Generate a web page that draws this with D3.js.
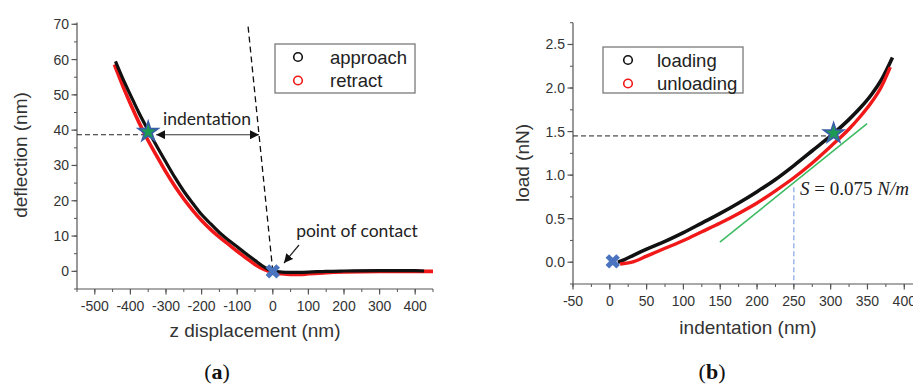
<!DOCTYPE html>
<html><head><meta charset="utf-8">
<script src="https://cdn.jsdelivr.net/npm/d3@7"></script>
<style>
html,body{margin:0;padding:0;background:#fff;}
svg{display:block;}
</style></head>
<body>
<script>
// ---------- DATA ----------
// Panel (a): force curve, z displacement (nm) vs deflection (nm)
const approachZ = [-442,-420,-400,-375,-350,-325,-300,-275,-250,-225,-200,-175,-150,-125,-100,-75,-50,-25,0,25,50,100,150,200,300,400,425];
const approachD = [59.5,54.3,50.0,44.7,39.9,35.3,30.9,26.6,22.7,19.3,16.1,13.5,11.0,8.9,7.0,5.0,3.1,1.3,0.1,-0.2,-0.3,-0.2,0.0,0.1,0.2,0.2,0.1];
const retractZ  = [-445,-420,-400,-375,-350,-325,-300,-275,-250,-225,-200,-175,-150,-125,-100,-75,-50,-25,0,25,50,75,100,150,200,300,400,450];
const retractD  = [58.6,52.2,47.5,42.0,37.0,32.5,28.1,24.1,20.5,17.3,14.4,11.9,9.7,7.7,5.7,3.8,1.95,0.55,-0.3,-0.7,-0.9,-0.9,-0.7,-0.35,-0.15,0.0,0.0,0.0];
const contactZ = 0, contactD = 0;
const starA = {z: -350, d: 39.5};
const levelA = 38.7;            // horizontal dashed level
const hardZ = [0, -69.5];        // zero-indentation reference line (deflection = -z)
const hardD = [0, 69.5];
const legendA = ["approach", "retract"];
const xTicksA = [-500,-400,-300,-200,-100,0,100,200,300,400];
const yTicksA = [0,10,20,30,40,50,60,70];

// Panel (b): load vs indentation
const loadingI = [11,20,32,50,75,100,125,150,175,200,225,250,275,300,325,340,355,370,384];
const loadingL = [0.0,0.03,0.08,0.15,0.24,0.34,0.45,0.56,0.68,0.81,0.95,1.11,1.28,1.45,1.64,1.77,1.92,2.11,2.35];
const unloadI  = [14,30,50,75,100,125,150,175,200,225,250,275,300,325,340,355,368,381];
const unloadL  = [-0.02,0.0,0.07,0.16,0.25,0.35,0.45,0.56,0.68,0.82,0.97,1.14,1.33,1.53,1.67,1.83,2.0,2.24];
const tangentI = [149.5, 349.5];
const tangentL = [0.23, 1.59];
const starB = {i: 304, l: 1.48};
const levelB = 1.45;
const stiffI = 250, stiffTop = 0.86;
const contactI = 4, contactL = 0.01;
const legendB = ["loading", "unloading"];
const xTicksB = [-50,0,50,100,150,200,250,300,350,400];
const yTicksB = [0.0,0.5,1.0,1.5,2.0,2.5];

// ---------- DRAW ----------
const W = 913, H = 385;
const svg = d3.select("body").append("svg").attr("width", W).attr("height", H);
const defs = svg.append("defs");
defs.append("marker").attr("id","ah").attr("viewBox","0 0 10 10").attr("refX",10).attr("refY",5)
  .attr("markerWidth",9).attr("markerHeight",9).attr("markerUnits","userSpaceOnUse").attr("orient","auto-start-reverse")
  .append("path").attr("d","M0,0L10,5L0,10Z").attr("fill","#111");

const AX = "#555", TXT = "#333";
const tickFont = "'Liberation Sans', Arial, sans-serif";

function axes(g, x, y, xt, yt, xminor, yminor, yfmt) {
  const xa = g.append("g").attr("transform", `translate(0,${y.range()[0]})`);
  xa.append("line").attr("x1", x.range()[0]).attr("x2", x.range()[1]).attr("stroke", AX).attr("stroke-width", 1.2);
  xa.selectAll(".mn").data(xminor).join("line").attr("x1", d=>x(d)).attr("x2", d=>x(d)).attr("y1",0).attr("y2",3).attr("stroke",AX);
  xa.selectAll(".mj").data(xt).join("line").attr("x1", d=>x(d)).attr("x2", d=>x(d)).attr("y1",0).attr("y2",5.5).attr("stroke",AX).attr("stroke-width",1.2);
  xa.selectAll("text").data(xt).join("text").attr("x", d=>x(d)).attr("y", 22).attr("text-anchor","middle")
    .attr("font-family", tickFont).attr("font-size", 14).attr("fill", TXT).text(d=>d);
  const ya = g.append("g").attr("transform", `translate(${x.range()[0]},0)`);
  ya.append("line").attr("y1", y.range()[0]).attr("y2", y.range()[1]).attr("stroke", AX).attr("stroke-width", 1.2);
  ya.selectAll(".mn").data(yminor).join("line").attr("y1", d=>y(d)).attr("y2", d=>y(d)).attr("x1",0).attr("x2",-3).attr("stroke",AX);
  ya.selectAll(".mj").data(yt).join("line").attr("y1", d=>y(d)).attr("y2", d=>y(d)).attr("x1",0).attr("x2",-5.5).attr("stroke",AX).attr("stroke-width",1.2);
  ya.selectAll("text").data(yt).join("text").attr("x", -8).attr("y", d=>y(d)+5).attr("text-anchor","end")
    .attr("font-family", tickFont).attr("font-size", 14).attr("fill", TXT).text(yfmt);
}

function star(g, cx, cy) {
  g.append("path").attr("d", d3.symbol(d3.symbolStar, 125)()).attr("transform", `translate(${cx},${cy})`)
    .attr("fill", "#1f9a52").attr("stroke", "#3a5ea8").attr("stroke-width", 1.6);
}
function cross(g, cx, cy) {
  g.append("path").attr("d", d3.symbol(d3.symbolCross, 130)()).attr("transform", `translate(${cx},${cy}) rotate(45)`)
    .attr("fill", "#4a74c0");
}
function legend(g, x0, y0, w, h, names, cx, tx) {
  g.append("rect").attr("x", x0).attr("y", y0).attr("width", w).attr("height", h)
    .attr("fill", "#fff").attr("stroke", "#7a7a7a").attr("stroke-width", 1.3);
  const cols = ["#111", "#f01818"];
  names.forEach((n, i) => {
    const yy = y0 + 13 + i * 23.5;
    g.append("circle").attr("cx", cx).attr("cy", yy).attr("r", 4.3).attr("fill", "none").attr("stroke", cols[i]).attr("stroke-width", 1.6);
    g.append("text").attr("x", tx).attr("y", yy + 6.5).attr("font-family", tickFont).attr("font-size", 18.5).attr("fill", "#222").text(n);
  });
}

// ===== Panel (a) =====
const ga = svg.append("g");
const xA = d3.scaleLinear().domain([-550, 450]).range([77, 433]);
const yA = d3.scaleLinear().domain([-5, 70.5]).range([289, 22.5]);
axes(ga, xA, yA, xTicksA, yTicksA, d3.range(-550, 451, 50), d3.range(-5, 71, 5), d=>d);

// reference dashed lines
ga.append("path").attr("d", d3.line()(hardZ.map((z,i)=>[xA(z), yA(hardD[i])])))
  .attr("stroke", "#111").attr("stroke-width", 1.3).attr("stroke-dasharray", "6,4").attr("fill","none");
ga.append("line").attr("x1", xA.range()[0]).attr("x2", xA(starA.z)-3).attr("y1", yA(levelA)).attr("y2", yA(levelA))
  .attr("stroke", "#222").attr("stroke-width", 1).attr("stroke-dasharray", "5,3");

const lineA = d3.line().x(d=>xA(d[0])).y(d=>yA(d[1])).curve(d3.curveMonotoneX);
ga.append("path").attr("d", lineA(retractZ.map((z,i)=>[z, retractD[i]]))).attr("fill","none").attr("stroke","#f01818").attr("stroke-width",3.6);
ga.append("path").attr("d", lineA(approachZ.map((z,i)=>[z, approachD[i]]))).attr("fill","none").attr("stroke","#111").attr("stroke-width",3.2);

// indentation double arrow
ga.append("line").attr("x1", xA(starA.z)+8).attr("x2", xA(-levelA)).attr("y1", yA(levelA)).attr("y2", yA(levelA))
  .attr("stroke", "#333").attr("stroke-width", 1.2).attr("marker-start","url(#ah)").attr("marker-end","url(#ah)");
ga.append("text").attr("x", 207).attr("y", 124.5).attr("text-anchor","middle").attr("font-family","Lato, 'Open Sans', sans-serif")
  .attr("font-size", 17.5).attr("fill","#222").text("indentation");
star(ga, xA(starA.z), yA(starA.d));
cross(ga, xA(contactZ), yA(contactD));

// point of contact
ga.append("text").attr("x", 357).attr("y", 237).attr("text-anchor","middle").attr("font-family","Lato, 'Open Sans', sans-serif")
  .attr("font-size", 17.5).attr("fill","#222").text("point of contact");
ga.append("line").attr("x1", 299).attr("y1", 245).attr("x2", 284).attr("y2", 263)
  .attr("stroke","#222").attr("stroke-width",1.2).attr("marker-end","url(#ah)");

legend(ga, 275, 44, 140, 49, legendA, 298, 330);

ga.append("text").attr("transform", "translate(27,155) rotate(-90)").attr("text-anchor","middle")
  .attr("font-family", tickFont).attr("font-size", 19).attr("fill", TXT).text("deflection (nm)");
ga.append("text").attr("x", 255).attr("y", 337).attr("text-anchor","middle")
  .attr("font-family", tickFont).attr("font-size", 19).attr("fill", TXT).text("z displacement (nm)");
const capA = ga.append("text").attr("x", 217).attr("y", 379).attr("text-anchor","middle")
  .attr("font-family","'Liberation Serif', serif").attr("font-size", 22).attr("fill","#111");
capA.append("tspan").text("(");
capA.append("tspan").attr("font-weight","bold").text("a");
capA.append("tspan").text(")");

// ===== Panel (b) =====
const gb = svg.append("g");
const xB = d3.scaleLinear().domain([-50, 420]).range([573, 919]);
const yB = d3.scaleLinear().domain([-0.25, 2.75]).range([284, 22.7]);
axes(gb, xB, yB, xTicksB, yTicksB, d3.range(-50, 421, 25), d3.range(-0.25, 2.76, 0.25), d=>d.toFixed(1));

gb.append("line").attr("x1", xB.range()[0]).attr("x2", xB(starB.i)-6).attr("y1", yB(levelB)).attr("y2", yB(levelB))
  .attr("stroke", "#222").attr("stroke-width", 1).attr("stroke-dasharray", "5,3");
gb.append("line").attr("x1", xB(stiffI)).attr("x2", xB(stiffI)).attr("y1", yB(stiffTop)).attr("y2", yB.range()[0])
  .attr("stroke", "#7b9de0").attr("stroke-width", 1.1).attr("stroke-dasharray", "5,3");

const lineB = d3.line().x(d=>xB(d[0])).y(d=>yB(d[1])).curve(d3.curveMonotoneX);
gb.append("path").attr("d", lineB(loadingI.map((v,i)=>[v, loadingL[i]]))).attr("fill","none").attr("stroke","#111").attr("stroke-width",3.6);
gb.append("path").attr("d", lineB(unloadI.map((v,i)=>[v, unloadL[i]]))).attr("fill","none").attr("stroke","#f01818").attr("stroke-width",3.4);
gb.append("path").attr("d", d3.line()(tangentI.map((v,i)=>[xB(v), yB(tangentL[i])]))).attr("fill","none").attr("stroke","#3dbb62").attr("stroke-width",1.6);

star(gb, xB(starB.i), yB(starB.l));
cross(gb, xB(contactI), yB(contactL));

const sT = gb.append("text").attr("x", 800).attr("y", 195).attr("font-family","'Liberation Serif', 'DejaVu Serif', serif")
  .attr("font-size", 19).attr("fill","#222");
sT.append("tspan").attr("font-style","italic").text("S");
sT.append("tspan").text(" = 0.075 ");
sT.append("tspan").attr("font-style","italic").text("N/m");

legend(gb, 603, 47, 140, 46, legendB, 628, 657);

gb.append("text").attr("transform", "translate(529,163) rotate(-90)").attr("text-anchor","middle")
  .attr("font-family", tickFont).attr("font-size", 19).attr("fill", TXT).text("load (nN)");
gb.append("text").attr("x", 748).attr("y", 334).attr("text-anchor","middle")
  .attr("font-family", tickFont).attr("font-size", 19).attr("fill", TXT).text("indentation (nm)");
const capB = gb.append("text").attr("x", 712).attr("y", 379).attr("text-anchor","middle")
  .attr("font-family","'Liberation Serif', serif").attr("font-size", 22).attr("fill","#111");
capB.append("tspan").text("(");
capB.append("tspan").attr("font-weight","bold").text("b");
capB.append("tspan").text(")");
</script>
</body></html>
